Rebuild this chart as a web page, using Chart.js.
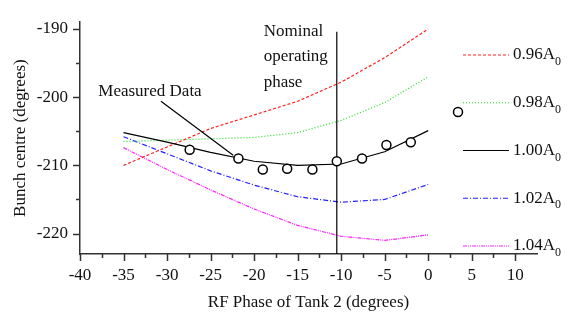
<!DOCTYPE html>
<html>
<head>
<meta charset="utf-8">
<script src="https://cdn.jsdelivr.net/npm/chart.js@4.4.1/dist/chart.umd.min.js"></script>
<style>
  html, body { margin:0; padding:0; background:#fff; }
</style>
</head>
<body>
<canvas id="chart" width="568" height="314"></canvas>
<script>
// simulated curves (RF phase of tank 2, degrees)
const phase = [-35, -30, -25, -20, -15, -10, -5, 0];
const amp096 = [-210.0, -207.3, -204.6, -202.6, -200.6, -197.8, -194.2, -190.0];
const amp098 = [-206.5, -206.3, -206.1, -205.9, -205.2, -203.4, -200.8, -197.0];
const amp100 = [-205.2, -206.6, -208.1, -209.4, -210.0, -209.8, -208.0, -204.9];
const amp102 = [-205.8, -208.3, -210.8, -212.9, -214.6, -215.4, -215.0, -212.8];
const amp104 = [-207.4, -210.6, -213.6, -216.4, -218.8, -220.4, -221.0, -220.2];

// measured bunch centres
const measuredPhase = [-27.4, -21.8, -19.0, -16.2, -13.3, -10.5, -7.6, -4.8, -2.0];
const measuredCentre = [-207.7, -209.0, -210.6, -210.5, -210.6, -209.4, -209.0, -207.0, -206.6];

// nominal operating phase marker and the label leader
const nominalPhase = -10.5;
const nominalSpan = [-190.4, -223];
const leaderPhase = [-30.7, -22.4];
const leaderCentre = [-200.6, -208.5];

// axis ticks
const xLabels = [-40, -35, -30, -25, -20, -15, -10, -5, 0, 5, 10];
const yLabels = [-220, -210, -200, -190];

const serif = '"Liberation Serif", "Times New Roman", serif';
const fs = 17;
const pts = (xs, ys) => xs.map((v, i) => ({x: v, y: ys[i]}));

const legendItems = [
  {label: '0.96A', color: '#ff2020', dash: [3, 2]},
  {label: '0.98A', color: '#20e020', dash: [1, 2]},
  {label: '1.00A', color: '#000', dash: []},
  {label: '1.02A', color: '#2020ff', dash: [5, 2, 1, 2]},
  {label: '1.04A', color: '#ff20ff', dash: [4, 1, 1, 1, 1, 1]}
];

const decor = {
  id: 'decor',
  afterDraw(chart) {
    const {ctx, scales: {x, y}, chartArea: a} = chart;
    ctx.save();
    // tick marks, outward
    ctx.strokeStyle = '#333';
    ctx.lineWidth = 1.5;
    ctx.beginPath();
    for (let v = -220; v <= -190; v += 5) {
      const p = Math.round(y.getPixelForValue(v)) + 0.5;
      ctx.moveTo(a.left, p);
      ctx.lineTo(a.left - (v % 10 === 0 ? 7 : 4), p);
    }
    for (let v = -40; v <= 10; v += 2.5) {
      const p = Math.round(x.getPixelForValue(v)) + 0.5;
      ctx.moveTo(p, a.bottom);
      ctx.lineTo(p, a.bottom + (v % 5 === 0 ? 7 : 4));
    }
    ctx.stroke();

    // annotations
    ctx.fillStyle = '#111';
    ctx.font = fs + 'px ' + serif;
    ctx.textAlign = 'left';
    ctx.textBaseline = 'middle';
    ctx.fillText('Measured Data', x.getPixelForValue(-37.9), y.getPixelForValue(-199.2));
    const nx = x.getPixelForValue(-18.9), ny = y.getPixelForValue(-190.3);
    ['Nominal', 'operating', 'phase'].forEach((t, i) => ctx.fillText(t, nx, ny + i * 25.5));

    // legend
    legendItems.forEach((it, i) => {
      const ly = 55 + i * 47.75;
      ctx.strokeStyle = it.color;
      ctx.lineWidth = 1.2;
      ctx.setLineDash(it.dash);
      ctx.beginPath();
      ctx.moveTo(463, ly);
      ctx.lineTo(509, ly);
      ctx.stroke();
      ctx.setLineDash([]);
      ctx.fillStyle = '#111';
      ctx.font = fs + 'px ' + serif;
      ctx.fillText(it.label, 513, ly);
      const w = ctx.measureText(it.label).width;
      ctx.font = '12px ' + serif;
      ctx.fillText('0', 513 + w, ly + 7);
    });
    // measured data symbol
    ctx.strokeStyle = '#000';
    ctx.lineWidth = 1.5;
    ctx.fillStyle = '#fff';
    ctx.beginPath();
    ctx.arc(458, 112, 4.5, 0, Math.PI * 2);
    ctx.fill();
    ctx.stroke();
    ctx.restore();
  }
};

const line = (data, color, dash, order) => ({
  data, borderColor: color, borderDash: dash, borderWidth: 1.2,
  pointRadius: 0, showLine: true, tension: 0, fill: false, order
});

new Chart(document.getElementById('chart').getContext('2d'), {
  type: 'scatter',
  data: {
    datasets: [
      {
        data: pts(measuredPhase, measuredCentre), showLine: false,
        pointRadius: 4.5, pointBorderWidth: 1.5, pointBorderColor: '#000',
        pointBackgroundColor: '#fff', order: 0
      },
      line(pts(phase, amp096), '#ff2020', [3, 2], 5),
      line(pts(phase, amp098), '#20e020', [1, 2], 5),
      line(pts(phase, amp100), '#000', [], 4),
      line(pts(phase, amp102), '#2020ff', [5, 2, 1, 2], 5),
      line(pts(phase, amp104), '#ff20ff', [4, 1, 1, 1, 1, 1], 5),
      line(pts([nominalPhase, nominalPhase], nominalSpan), '#000', [], 3),
      line(pts(leaderPhase, leaderCentre), '#000', [], 3)
    ]
  },
  options: {
    responsive: false,
    animation: false,
    devicePixelRatio: 1,
    layout: {padding: {top: 9, right: 31, left: 0, bottom: 0}},
    plugins: {legend: {display: false}, tooltip: {enabled: false}},
    scales: {
      x: {
        type: 'linear', min: -40, max: 12.5,
        afterBuildTicks: s => { s.ticks = xLabels.map(v => ({value: v})); },
        afterFit: s => { s.height = 60; },
        grid: {display: false, drawTicks: false},
        border: {display: true, color: '#333', width: 1.5},
        ticks: {
          padding: 11, color: '#111', autoSkip: false, maxRotation: 0,
          font: {family: serif, size: fs},
          callback: v => String(v)
        },
        title: {display: true, text: 'RF Phase of Tank 2 (degrees)', color: '#111',
          font: {family: serif, size: fs}, padding: {top: 0, bottom: 1}}
      },
      y: {
        type: 'linear', min: -223, max: -189,
        afterBuildTicks: s => { s.ticks = yLabels.map(v => ({value: v})); },
        afterFit: s => { s.width = 80; },
        grid: {display: false, drawTicks: false},
        border: {display: true, color: '#333', width: 1.5},
        ticks: {
          padding: 12, color: '#111', autoSkip: false,
          font: {family: serif, size: fs},
          callback: v => String(v)
        },
        title: {display: true, text: 'Bunch centre (degrees)', color: '#111',
          font: {family: serif, size: fs}, padding: {top: 10, bottom: 0}}
      }
    }
  },
  plugins: [decor]
});
</script>
</body>
</html>
